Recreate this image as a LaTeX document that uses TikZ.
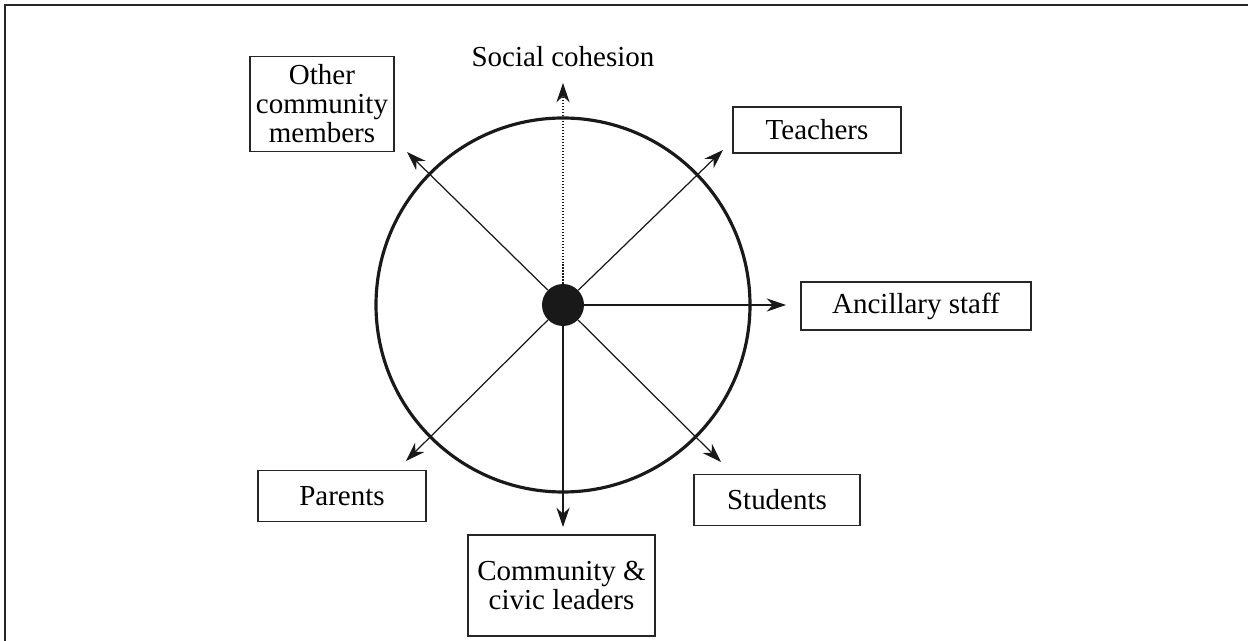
\documentclass[tikz,border=0pt]{standalone}
\usepackage{fontspec}
\setmainfont{Liberation Serif}
\usetikzlibrary{arrows.meta}
\begin{document}
\begin{tikzpicture}[x=0.02cm,y=-0.02cm,
  every node/.style={font=\fontsize{16.5}{16.5}\selectfont},
  lbl/.style={draw=black!85, line width=0.8pt, inner sep=0pt, align=center},
  spoke/.style={line width=0.7pt, black!90, -{Stealth[length=11pt,width=7.5pt,inset=3.5pt]}},
  frame/.style={line width=1.1pt, black!85}]
\useasboundingbox (0,0) rectangle (1248,641);
\draw[frame] (5,641) -- (5,5) -- (1248,5);
% circle and hub
\draw[line width=1.8pt, black!90] (563,305) circle (187);
\node[circle, fill=black!90, minimum size=0.84cm, inner sep=0pt] (c) at (563,305) {};
% tips
\path (c.center) ++(0,-222) coordinate (tu);
\path (c.center) ++(160,-155) coordinate (tur);
\path (c.center) ++(223,0) coordinate (tr);
\path (c.center) ++(158,157) coordinate (tdr);
\path (c.center) ++(0,222) coordinate (td);
\path (c.center) ++(-157,156) coordinate (tdl);
\path (c.center) ++(-156,-153) coordinate (tul);
% labels
\node (soc) at (563,57) {Social cohesion};
\node[lbl, minimum width=168*0.02cm, minimum height=46*0.02cm] (tea) at (817,130) {Teachers};
\node[lbl, minimum width=230*0.02cm, minimum height=48*0.02cm] (anc) at (916,306) {Ancillary staff};
\node[lbl, minimum width=166*0.02cm, minimum height=51*0.02cm] (stu) at (777,500) {Students};
\node[lbl, minimum width=168*0.02cm, minimum height=51*0.02cm] (par) at (342,496) {Parents};
\node[lbl, minimum width=187*0.02cm, minimum height=101*0.02cm] (com) at (561.5,585.5) {Community \&\\civic leaders};
\node[lbl, minimum width=144*0.02cm, minimum height=95*0.02cm] (oth) at (322,104) {Other\\community\\members};
% spokes
\draw[spoke, densely dotted, line width=0.6pt] (c) -- (tu);
\draw[spoke] (c) -- (tur);
\draw[spoke] (c) -- (tr);
\draw[spoke] (c) -- (tdr);
\draw[spoke] (c) -- (td);
\draw[spoke] (c) -- (tdl);
\draw[spoke] (c) -- (tul);
\end{tikzpicture}
\end{document}
